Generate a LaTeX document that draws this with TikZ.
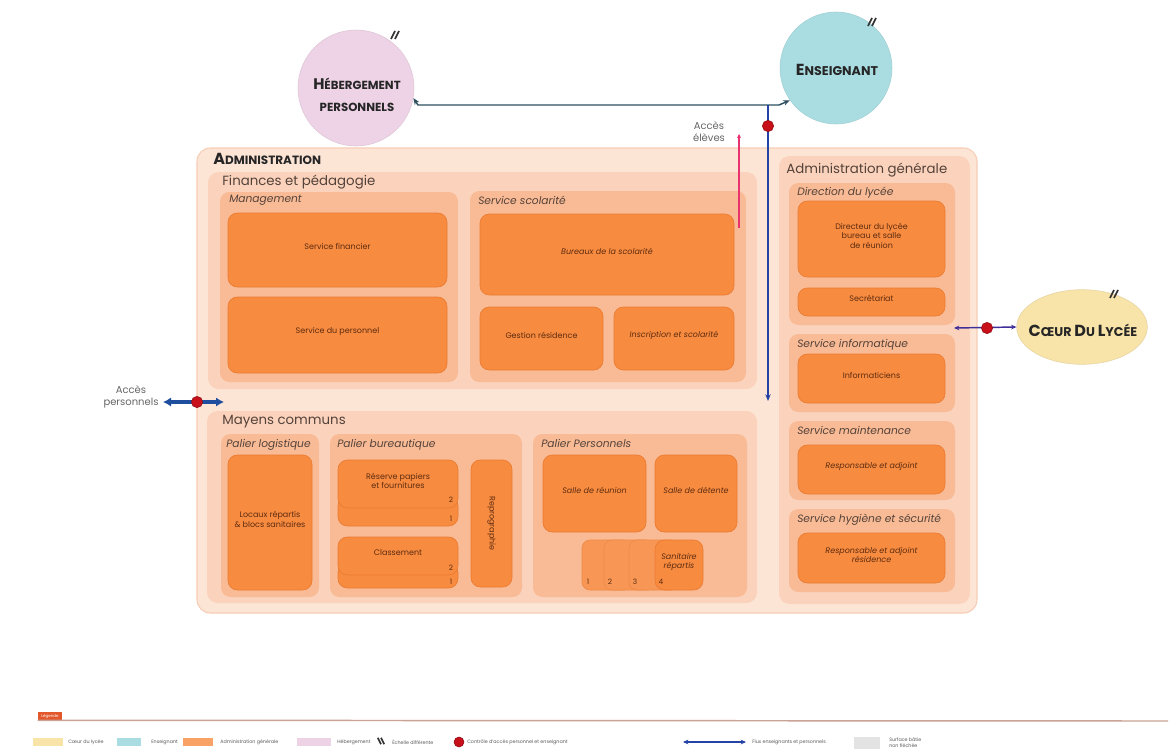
\documentclass[tikz,border=0pt]{standalone}
\usepackage{fontspec}
\setmainfont{Poppins}
\usetikzlibrary{fit,shapes.geometric,arrows.meta}

\definecolor{outerc}{HTML}{FDE5D6}
\definecolor{outerline}{HTML}{F6CDB5}
\definecolor{lvtwo}{HTML}{FBD3BC}
\definecolor{lvthree}{HTML}{F9BB95}
\definecolor{leafc}{HTML}{F78B40}
\definecolor{leafline}{HTML}{EC7C33}
\definecolor{txtleaf}{HTML}{5E2C10}
\definecolor{txttitle}{HTML}{54423A}
\definecolor{hebc}{HTML}{EED2E5}
\definecolor{ensc}{HTML}{A9DDE2}
\definecolor{coeurc}{HTML}{F8E3A8}
\definecolor{fluxdark}{HTML}{2E4F60}
\definecolor{fluxblue}{HTML}{2443A5}
\definecolor{fluxthick}{HTML}{1F4E9E}
\definecolor{dotred}{HTML}{C8101A}
\definecolor{accpink}{HTML}{E8336E}
\definecolor{legline}{HTML}{C9A395}
\definecolor{legtab}{HTML}{E2572B}
\definecolor{greysw}{HTML}{E3E3E3}
\definecolor{legtxt}{HTML}{5A5A5A}

% fake small capitals: big initial, smaller rest
\newcommand\scap[4]{{\fontsize{#3}{#3}\selectfont #1}{\fontsize{#4}{#4}\selectfont #2}}
\newcommand\leaffont{\fontsize{6}{7.4}\selectfont}
% a box spanning two corners, with optional centred text
\newcommand\bx[7]{\node[#1, fit={(#3,#4) (#5,#6)}, inner sep=0pt] (#2) {#7};}

\begin{document}
\begin{tikzpicture}[x=0.75pt,y=-0.75pt,
  outerbox/.style={fill=outerc, draw=outerline, line width=0.8pt, rounded corners=10pt},
  lvtwobox/.style={fill=lvtwo, draw=none, rounded corners=8pt},
  lvthreebox/.style={fill=lvthree, draw=none, rounded corners=7pt},
  leaf/.style={fill=leafc, draw=leafline, line width=0.5pt, rounded corners=7pt,
    text=txtleaf, font=\leaffont, align=center},
  leafit/.style={leaf, font=\leaffont\itshape},
  cardback/.style={fill=leafc!75!lvthree, draw=leafline!80!lvthree, line width=0.5pt, rounded corners=6pt},
  ttltwo/.style={anchor=north west, inner sep=0pt, text=txttitle, font=\fontsize{10}{12}\selectfont},
  ttlthree/.style={anchor=north west, inner sep=0pt, text=txttitle, font=\fontsize{8}{9.6}\selectfont\itshape},
  num/.style={inner sep=0pt, text=txtleaf, font=\fontsize{5.5}{6}\selectfont},
  bigttl/.style={inner sep=0pt, text=black!85, font=\bfseries},
  reddot/.style={circle, fill=dotred, draw=dotred!70!black, line width=0.4pt, minimum size=8.5pt, inner sep=0pt},
  note/.style={inner sep=0pt, align=center, text=black!60, font=\fontsize{7.5}{9}\selectfont},
  fluxline/.style={draw=fluxdark, line width=1.1pt, {Stealth[length=5pt,width=4pt]}-{Stealth[length=5pt,width=4pt]}},
  fluxv/.style={draw=fluxblue, line width=1pt, -{Stealth[length=5pt,width=4pt]}},
  fluxthickline/.style={draw=fluxthick, line width=2.4pt, {Latex[length=6pt,width=7pt]}-{Latex[length=6pt,width=7pt]}},
  fluxc/.style={draw=fluxblue!70!violet, line width=1.1pt, {Stealth[length=4pt,width=3.5pt]}-{Stealth[length=4pt,width=3.5pt]}},
  pinkline/.style={draw=accpink, line width=1.1pt, -{Stealth[length=3pt,width=3pt]}},
  legtext/.style={anchor=west, inner sep=0pt, text=legtxt, font=\fontsize{3.6}{4.3}\selectfont, align=left},
  slashes/.pic={
    \draw[black!80, line width=1.3pt] (-4,4) -- (0,-4);
    \draw[black!80, line width=1.3pt] (0,4) -- (4,-4);
  }
]
\useasboundingbox (0,0) rectangle (1176,753);
\fill[white] (0,0) rectangle (1176,753);

% ---------- outer administration block ----------
\bx{outerbox}{admin}{197}{148}{977}{613}{}
\node[bigttl, anchor=north west] (tAdmin) at (213,153) {\scap{A}{DMINISTRATION}{12}{9}};

% Finances et pedagogie
\bx{lvtwobox}{fin}{208}{172}{757}{389}{}
\node[ttltwo] (tFin) at (222,175) {Finances et pédagogie};
\bx{lvthreebox}{mgmt}{220}{192}{458}{382}{}
\node[ttlthree] (tMgmt) at (229,195) {Management};
\bx{leaf}{sfin}{228}{213}{447}{287}{Service financier}
\bx{leaf}{spers}{228}{297}{447}{373}{Service du personnel}
\bx{lvthreebox}{scol}{470}{191}{746}{382}{}
\node[ttlthree] (tScol) at (478,196) {Service scolarité};
\bx{leafit}{bur}{480}{214}{734}{295}{Bureaux de la scolarité}
\bx{leaf}{gres}{480}{307}{603}{370}{Gestion résidence}
\bx{leafit}{insc}{614}{307}{734}{370}{Inscription et scolarité}

% Administration generale
\bx{lvtwobox}{agen}{779}{156}{970}{604}{}
\node[ttltwo] (tAgen) at (786,163) {Administration générale};
\bx{lvthreebox}{dir}{789}{183}{955}{325}{}
\node[ttlthree] (tDir) at (797,187) {Direction du lycée};
\bx{leaf}{dirl}{798}{201}{945}{277}{Directeur du lycée\\bureau et salle\\de réunion}
\bx{leaf}{secr}{798}{288}{945}{316}{Secrétariat}
\bx{lvthreebox}{sinf}{789}{334}{955}{412}{}
\node[ttlthree] (tInf) at (797,339) {Service informatique};
\bx{leaf}{infl}{798}{354}{945}{403}{Informaticiens}
\bx{lvthreebox}{smnt}{789}{421}{955}{500}{}
\node[ttlthree] (tMnt) at (797,426) {Service maintenance};
\bx{leafit}{mntl}{798}{445}{945}{494}{Responsable et adjoint}
\bx{lvthreebox}{shyg}{789}{509}{955}{592}{}
\node[ttlthree] (tHyg) at (797,514) {Service hygiène et sécurité};
\bx{leafit}{hygl}{798}{533}{945}{583}{Responsable et adjoint\\résidence}

% Moyens communs
\bx{lvtwobox}{moy}{207}{411}{757}{603}{}
\node[ttltwo] (tMoy) at (222,415) {Mayens communs};
\bx{lvthreebox}{plog}{221}{434}{319}{597}{}
\node[ttlthree] (tLog) at (226,439) {Palier logistique};
\bx{leaf}{locx}{228}{455}{312}{590}{Locaux répartis\\\& blocs sanitaires}
\bx{lvthreebox}{pbur}{330}{434}{522}{597}{}
\node[ttlthree] (tBur) at (337,439) {Palier bureautique};
\bx{leaf}{res1}{338}{496}{458}{526}{}
\bx{leaf}{res2}{338}{460}{458}{508}{Réserve papiers\\et fournitures\\[4pt]}
\node[num] (nr2) at (451,500) {2};
\node[num] (nr1) at (451,519) {1};
\bx{leaf}{cls1}{338}{563}{458}{588}{}
\bx{leaf}{cls2}{338}{537}{458}{575}{Classement\\[5pt]}
\node[num] (nc2) at (451,568) {2};
\node[num] (nc1) at (451,582) {1};
\bx{leaf}{repro}{471}{460}{512}{587}{}
\node[rotate=-90, inner sep=0pt, text=txtleaf, font=\leaffont] (reprotxt) at (repro.center) {Reprographie};
\bx{lvthreebox}{ppers}{533}{434}{747}{597}{}
\node[ttlthree] (tPers) at (541,439) {Palier Personnels};
\bx{leafit}{sreu}{543}{455}{646}{532}{Salle de réunion}
\bx{leafit}{sdet}{655}{455}{737}{532}{Salle de détente}
\bx{cardback}{card1}{582}{540}{632}{590}{}
\bx{cardback}{card2}{604}{540}{654}{590}{}
\bx{cardback}{card3}{629}{540}{679}{590}{}
\bx{leafit}{card4}{655}{540}{703}{590}{Sanitaire\\répartis\\[6pt]}
\node[num] (s1) at (588,582) {1};
\node[num] (s2) at (610,582) {2};
\node[num] (s3) at (635,582) {3};
\node[num] (s4) at (661,582) {4};

% ---------- surrounding entities ----------
\node[circle, fill=hebc, draw=hebc!85!gray, line width=0.4pt, minimum size=87pt, inner sep=0pt] (heb) at (356,88) {};
\node[bigttl] (hebA) at (357,84) {\scap{H}{ÉBERGEMENT}{11.5}{8.8}};
\node[bigttl, font=\bfseries\fontsize{8.8}{10}\selectfont] (hebB) at (357,107) {PERSONNELS};
\pic at (395,35) {slashes};

\node[circle, fill=ensc, draw=ensc!85!gray, line width=0.4pt, minimum size=84pt, inner sep=0pt] (ens) at (836,68) {};
\node[bigttl] (enstxt) at (837,70) {\scap{E}{NSEIGNANT}{12}{9.5}};
\pic at (872,22) {slashes};

\node[ellipse, fill=coeurc, draw=coeurc!85!gray, line width=0.4pt, minimum width=98pt, minimum height=56pt, inner sep=0pt] (coeur) at (1082,327) {};
\node[bigttl] (coeurtxt) at (1083,330) {\scap{C}{ŒUR}{12}{9.5} \scap{D}{U}{12}{9.5} \scap{L}{YCÉE}{12}{9.5}};
\pic at (1114,294) {slashes};

% ---------- flows ----------
\coordinate (jn) at (768,105);
\coordinate (vend) at (768,401);
\draw[fluxline] (heb.-10) -- (418,105) -- (779,105) -- (ens.-145);
\draw[fluxv] (jn) -- (vend);
\node[reddot] (dotA) at (768,126) {};

\node[note] (accE) at (709,132) {Accès\\élèves};
\coordinate (pinkbot) at (739,228);
\coordinate (pinktop) at (739,134);
\draw[pinkline] (pinkbot) -- (pinktop);

\node[note] (accP) at (131,397) {Accès\\personnels};
\coordinate (pA) at (163,402);
\coordinate (pB) at (224,402);
\draw[fluxthickline] (pA) -- (pB);
\node[reddot] (dotB) at (197,402) {};

\coordinate (cL) at (954,328);
\draw[fluxc] (cL) -- (coeur.west);
\node[reddot] (dotC) at (987,328) {};

% ---------- legend ----------
\node[fill=legtab, minimum width=18pt, minimum height=6pt, inner sep=0pt, text=white,
  font=\fontsize{3}{3}\selectfont] (legtab) at (50,716) {Légende};
\coordinate (legend-end) at (1168,721);
\draw[legline, line width=1.1pt] (legtab.south west) -- (legend-end);

\node[fill=coeurc, minimum width=22.5pt, minimum height=6.5pt, inner sep=0pt] (sw1) at (48,742) {};
\node[legtext] (lt1) at (68,742) {Cœur du lycée};
\node[fill=ensc, minimum width=18pt, minimum height=6.5pt, inner sep=0pt] (sw2) at (129,742) {};
\node[legtext] (lt2) at (151,742) {Enseignant};
\node[fill=leafc!80!white, minimum width=22.5pt, minimum height=6.5pt, inner sep=0pt] (sw3) at (198,742) {};
\node[legtext] (lt3) at (220,742) {Administration générale};
\node[fill=hebc, minimum width=25pt, minimum height=6.5pt, inner sep=0pt] (sw4) at (314,742) {};
\node[legtext] (lt4) at (337,742) {Hébergement};
\pic[xscale=-1, scale=0.8] at (381,741) {slashes};
\node[legtext] (lt5) at (392,742) {Échelle différente};
\node[reddot, minimum size=7.5pt] (sw6) at (459,742) {};
\node[legtext] (lt6) at (467,742) {Contrôle d'accès personnel et enseignant};
\coordinate (la) at (683,742);
\coordinate (lb) at (746,742);
\draw[draw=fluxblue, line width=0.9pt, {Stealth[length=4pt,width=3.5pt]}-{Stealth[length=4pt,width=3.5pt]}] (la) -- (lb);
\node[legtext] (lt7) at (752,742) {Flux enseignants et personnels};
\node[fill=greysw, minimum width=20pt, minimum height=9.5pt, inner sep=0pt] (sw8) at (867,743) {};
\node[legtext] (lt8) at (889,743) {Surface bâtie\\non fléchée};
\end{tikzpicture}
\end{document}
